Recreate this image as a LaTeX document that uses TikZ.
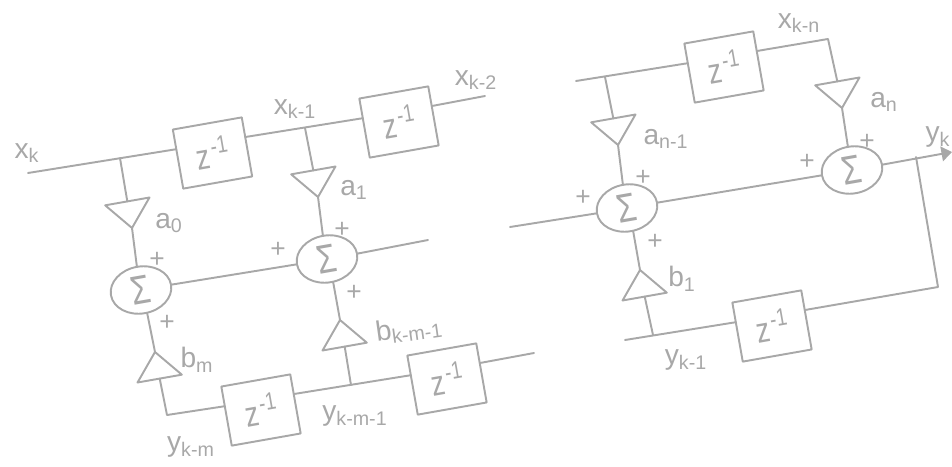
\documentclass[tikz,border=0pt]{standalone}
\usepackage{fontspec}
\setmainfont{Liberation Sans}
\newfontfamily\narrowfont[FakeStretch=0.78]{Liberation Sans}
\usetikzlibrary{arrows.meta,shapes.geometric}
\definecolor{wire}{gray}{0.66}
\newcommand{\zinv}{z\kern1.2pt\textsuperscript{-1}}

\tikzset{
  wiring/.style={draw=wire, line width=1.1pt, line cap=round, line join=round},
  delay/.style={wiring, rectangle, rotate=10, minimum width=1.4cm, minimum height=1.2cm,
    inner sep=0pt, outer sep=0pt, text=wire, font=\narrowfont\fontsize{20}{22}\selectfont},
  adder/.style={wiring, ellipse, rotate=10, minimum width=1.22cm, minimum height=0.94cm,
    inner sep=0pt, outer sep=0pt, text=wire, font=\narrowfont\fontsize{23}{24}\selectfont},
  gain/.style={wiring, isosceles triangle, isosceles triangle stretches, anchor=apex,
    minimum width=0.9cm, minimum height=0.54cm, inner sep=0pt, outer sep=0pt},
  lbl/.style={text=wire, inner sep=0pt, font=\fontsize{16}{18}\selectfont},
  sgn/.style={text=wire, inner sep=0pt, font=\fontsize{15}{16}\selectfont},
}

\begin{document}
\begin{tikzpicture}[x=0.02cm, y=-0.02cm, >={Triangle[length=10pt*0.6, width=14pt*0.6]}]

\useasboundingbox (0,0) rectangle (952,466);

% ----------------------------
% DELAY BOXES
% ----------------------------
\node[delay] (zA) at (212.5,153) {\zinv};
\node[delay] (zB) at (399,122) {\zinv};
\node[delay] (zC) at (261,410) {\zinv};
\node[delay] (zD) at (447,379) {\zinv};
\node[delay] (zE) at (724,67) {\zinv};
\node[delay] (zF) at (772,326) {\zinv};

% ----------------------------
% ADDERS
% ----------------------------
\node[adder] (sumA) at (141,290) {Σ};
\node[adder] (sumB) at (327,259) {Σ};
\node[adder] (sumC) at (627,208) {Σ};
\node[adder] (sumD) at (852,170) {Σ};

% ----------------------------
% GAINS (placed by their apex)
% ----------------------------
\node[gain, rotate=-80] (ga0) at (132,228) {};
\node[gain, rotate=-80] (ga1) at (318,197) {};
\node[gain, rotate=-80] (gan1) at (618,145) {};
\node[gain, rotate=-80] (gan) at (842,108) {};
\node[gain, rotate=100] (gbm) at (155,352) {};
\node[gain, rotate=100] (gbk) at (340,320) {};
\node[gain, rotate=100] (gb1) at (640,270) {};

% ----------------------------
% FREE ENDS AND BRANCH POINTS
% ----------------------------
\coordinate (xin) at (28,173);
\coordinate (xA) at (120,158);
\coordinate (xB) at (305,128);
\coordinate (xout) at (485,96);
\coordinate (sumBout) at (428,240);
\coordinate (ycorner) at (167,415);
\coordinate (yB) at (351,385);
\coordinate (yout) at (534,353);
\coordinate (xrin) at (576,81);
\coordinate (xC) at (605,77);
\coordinate (xcorner) at (828,39);
\coordinate (sumCin) at (510,227);
\coordinate (yk) at (952,152);
\coordinate (yD) at (916,157);
\coordinate (ybend) at (938,287);
\coordinate (yC) at (653,335);
\coordinate (yrin) at (625,340);

% ----------------------------
% LEFT SECTION
% ----------------------------
\draw[wiring] (xin) -- (zA.164);
\draw[wiring] (zA.16) -- (zB.164);
\draw[wiring] (zB.16) -- (xout);
\draw[wiring] (xA) -- (ga0.lower side);
\draw[wiring] (ga0.apex) -- (sumA.north);
\draw[wiring] (xB) -- (ga1.lower side);
\draw[wiring] (ga1.apex) -- (sumB.north);
\draw[wiring] (sumA.east) -- (sumB.west);
\draw[wiring] (sumB.east) -- (sumBout);
\draw[wiring] (gbm.apex) -- (sumA.275);
\draw[wiring] (gbk.apex) -- (sumB.275);
\draw[wiring] (gbm.lower side) -- (ycorner) -- (zC.164);
\draw[wiring] (zC.16) -- (zD.164);
\draw[wiring] (zD.16) -- (yout);
\draw[wiring] (yB) -- (gbk.lower side);

% ----------------------------
% RIGHT SECTION
% ----------------------------
\draw[wiring] (xrin) -- (zE.164);
\draw[wiring] (zE.16) -- (xcorner) -- (gan.lower side);
\draw[wiring] (xC) -- (gan1.lower side);
\draw[wiring] (gan1.apex) -- (sumC.north);
\draw[wiring] (gan.apex) -- (sumD.north);
\draw[wiring] (sumCin) -- (sumC.west);
\draw[wiring] (sumC.east) -- (sumD.west);
\draw[wiring, ->] (sumD.east) -- (yk);
\draw[wiring] (yD) -- (ybend) -- (zF.16);
\draw[wiring] (zF.164) -- (yrin);
\draw[wiring] (yC) -- (gb1.lower side);
\draw[wiring] (gb1.apex) -- (sumC.275);

% ----------------------------
% LABELS
% ----------------------------
\node[lbl] (lxk) at (27,153) {x\textsubscript{k}};
\node[lbl] (lxk1) at (295,109) {x\textsubscript{k-1}};
\node[lbl] (lxk2) at (476,80) {x\textsubscript{k-2}};
\node[lbl] (lxkn) at (799,23) {x\textsubscript{k-n}};
\node[lbl] (la0) at (169,223) {a\textsubscript{0}};
\node[lbl] (la1) at (354,190) {a\textsubscript{1}};
\node[lbl] (lan) at (884,102) {a\textsubscript{n}};
\node[lbl] (lan1) at (666,139) {a\textsubscript{n-1}};
\node[lbl] (lbm) at (197,360) {b\textsubscript{m}};
\node[lbl, rotate=8] (lbk) at (409,329) {b\textsubscript{k-m-1}};
\node[lbl] (lb1) at (682,279) {b\textsubscript{1}};
\node[lbl] (lyk) at (938,137) {y\textsubscript{k}};
\node[lbl] (lykm) at (191,447) {y\textsubscript{k-m}};
\node[lbl] (lykm1) at (355,416) {y\textsubscript{k-m-1}};
\node[lbl] (lyk1) at (686,360) {y\textsubscript{k-1}};

% plus signs
\node[sgn] (pA) at (157,260) {+};
\node[sgn] (pB) at (167,323) {+};
\node[sgn] (pC) at (278,250) {+};
\node[sgn] (pD) at (342,230) {+};
\node[sgn] (pE) at (354,293) {+};
\node[sgn] (pF) at (583,198) {+};
\node[sgn] (pG) at (643,178) {+};
\node[sgn] (pH) at (655,242) {+};
\node[sgn] (pI) at (807,162) {+};
\node[sgn] (pJ) at (867,142) {+};

\end{tikzpicture}
\end{document}
